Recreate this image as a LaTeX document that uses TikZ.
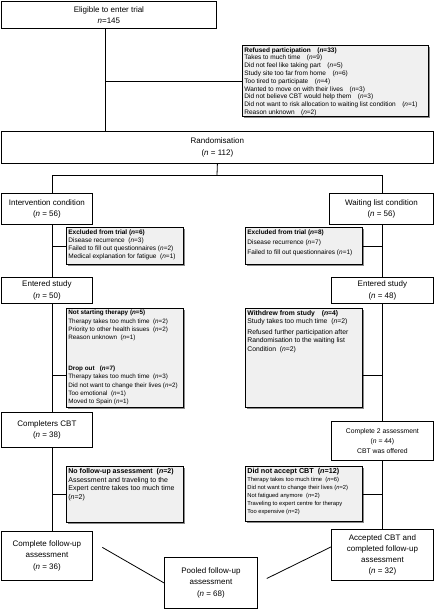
\documentclass[tikz,border=0pt]{standalone}
\usepackage{fontspec}
\setmainfont{Liberation Sans}
\usetikzlibrary{shadows, positioning}
\definecolor{BoxGrey}{HTML}{F0F0F0}
\definecolor{ShadowGrey}{HTML}{8A8A8A}
\newcommand{\greytext}[3]{\parbox[c][#2][t]{#1}{\raggedright #3}}

\begin{document}
\begin{tikzpicture}[x=1pt, y=-1pt, line width=0.8pt,
  mainbox/.style={draw, fill=white, anchor=north west, align=center, inner sep=1pt, font=\fontsize{8}{11.5}\selectfont},
  greybox/.style={draw, fill=BoxGrey, anchor=north west, inner sep=2pt,
    drop shadow={shadow xshift=1.6pt, shadow yshift=-1.6pt, fill=ShadowGrey, opacity=1}}]
  % Make it 434 x 610
  \useasboundingbox (0,0) rectangle (434,610);

  % main stages
  \node[mainbox, minimum width=215pt, minimum height=27pt] (eligible) at (1,1) {Eligible to enter trial\\\textit{n}=145};
  \node[mainbox, minimum width=432pt, minimum height=32pt] (random) at (1,131) {Randomisation\\(\textit{n} = 112)};
  \node[mainbox, minimum width=91pt, minimum height=31pt] (interv) at (1,193) {Intervention condition\\(\textit{n} = 56)};
  \node[mainbox, minimum width=104pt, minimum height=31pt] (wait) at (329,193) {Waiting list condition\\(\textit{n} = 56)};
  \node[mainbox, minimum width=91pt, minimum height=26pt] (enteredI) at (1,277) {Entered study\\(\textit{n} = 50)};
  \node[mainbox, minimum width=102pt, minimum height=26pt] (enteredW) at (331,277) {Entered study\\(\textit{n} = 48)};
  \node[mainbox, minimum width=91pt, minimum height=35pt] (completers) at (1,412) {Completers CBT\\(\textit{n} = 38)};
  \node[mainbox, minimum width=102pt, minimum height=39pt, font=\fontsize{6.8}{10}\selectfont] (secondW) at (331,421) {Complete 2 assessment\\(\textit{n} = 44)\\CBT was offered};
  \node[mainbox, minimum width=91pt, minimum height=49pt] (followI) at (1,531) {Complete follow-up\\assessment\\(\textit{n} = 36)};
  \node[mainbox, minimum width=102pt, minimum height=51pt, font=\fontsize{8}{11}\selectfont] (followW) at (331,529) {Accepted CBT and\\completed follow-up\\assessment\\(\textit{n} = 32)};
  \node[mainbox, minimum width=93pt, minimum height=51pt] (pooled) at (164,557) {Pooled follow-up\\assessment\\(\textit{n} = 68)};

  % drop-out boxes
  \node[greybox, font=\fontsize{6.5}{7.8}\selectfont] (refused) at (242,45) {\greytext{182pt}{67pt}{%
    \textbf{Refused participation\quad(\textit{n}=33)}\\
    Takes to much time\quad(\textit{n}=9)\\
    Did not feel like taking part\quad(\textit{n}=5)\\
    Study site too far from home\quad(\textit{n}=6)\\
    Too tired to participate\quad(\textit{n}=4)\\
    Wanted to move on with their lives\quad(\textit{n}=3)\\
    Did not believe CBT would help them\quad(\textit{n}=3)\\
    Did not want to risk allocation to waiting list condition\quad(\textit{n}=1)\\
    Reason unknown\quad(\textit{n}=2)}};
  \node[greybox, font=\fontsize{6.5}{8.2}\selectfont] (exclI) at (66,227) {\greytext{113pt}{33pt}{%
    \textbf{Excluded from trial (\textit{n}=6)}\\
    Disease recurrence\ \ (\textit{n}=3)\\
    Failed to fill out questionnaires (\textit{n}=2)\\
    Medical explanation for fatigue\ \ (\textit{n}=1)}};
  \node[greybox, font=\fontsize{6.5}{10}\selectfont] (exclW) at (245,227) {\greytext{113pt}{33pt}{%
    \textbf{Excluded from trial (\textit{n}=8)}\\
    Disease recurrence (\textit{n}=7)\\
    Failed to fill out questionnaires (\textit{n}=1)}};
  \node[greybox, font=\fontsize{6.3}{8.2}\selectfont] (dropI) at (66,308) {\greytext{113pt}{95pt}{%
    \textbf{Not starting therapy (\textit{n}=5)}\\
    Therapy takes too much time\ \ (\textit{n}=2)\\
    Priority to other health issues\ \ (\textit{n}=2)\\
    Reason unknown\ \ (\textit{n}=1)\\[23pt]
    \textbf{Drop out\ \ \ (\textit{n}=7)}\\
    Therapy takes too much time\ \ (\textit{n}=3)\\
    Did not want to change their lives (\textit{n}=2)\\
    Too emotional\ \ (\textit{n}=1)\\
    Moved to Spain (\textit{n}=1)}};
  \node[greybox, font=\fontsize{6.8}{8.2}\selectfont] (withdrew) at (245,308) {\greytext{113pt}{95pt}{%
    \textbf{Withdrew from study\quad(\textit{n}=4)}\\
    Study takes too much time\ \ (\textit{n}=2)\\[3pt]
    Refused further participation after\\
    Randomisation to the waiting list\\
    Condition\ \ (\textit{n}=2)}};
  \node[greybox, font=\fontsize{7}{8.7}\selectfont] (nofollow) at (66,466) {\greytext{113pt}{52pt}{%
    \textbf{No follow-up assessment\ \ (\textit{n}=2)}\\
    Assessment and traveling to the\\
    Expert centre takes too much time\\
    (\textit{n}=2)}};
  \node[greybox, font=\fontsize{5.8}{8}\selectfont] (notaccept) at (245,466) {\greytext{113pt}{51pt}{%
    {\fontsize{7.2}{9}\selectfont\textbf{Did not accept CBT\ \ (\textit{n}=12)}}\\
    Therapy takes too much time\ \ (\textit{n}=6)\\
    Did not want to change their lives (\textit{n}=2)\\
    Not fatigued anymore\ \ (\textit{n}=2)\\
    Traveling to expert centre for therapy\\
    Too expensive (\textit{n}=2)}};

  % trunk from eligible down to randomisation
  \coordinate (trunk) at ([xshift=-3.5pt]eligible.south);
  \draw (trunk) -- (trunk |- random.north);
  \draw (trunk |- refused.west) -- (refused.west);

  % split into the two arms
  \coordinate (split) at (217,175);
  \coordinate (armI) at (52,175);
  \coordinate (armW) at (382,175);
  \draw (random.south) -- (split);
  \draw (armI) -- (armW);
  \draw (armI) -- (armI |- interv.north);
  \draw (armW) -- (armW |- wait.north);

  % intervention arm
  \draw (armI |- interv.south) -- (armI |- enteredI.north);
  \draw (armI |- exclI.west) -- (exclI.west);
  \draw (armI |- enteredI.south) -- (armI |- completers.north);
  \draw ([yshift=-17pt]dropI.west -| armI) -- ([yshift=-17pt]dropI.west);
  \draw (armI |- completers.south) -- (armI |- followI.north);
  \draw (armI |- nofollow.west) -- (nofollow.west);

  % waiting list arm
  \draw (armW |- wait.south) -- (armW |- enteredW.north);
  \draw (armW |- exclW.east) -- (exclW.east);
  \draw (armW |- enteredW.south) -- (armW |- secondW.north);
  \draw ([yshift=-17pt]withdrew.east -| armW) -- ([yshift=-17pt]withdrew.east);
  \draw (armW |- secondW.south) -- (armW |- followW.north);
  \draw (armW |- notaccept.east) -- (notaccept.east);

  % pooling
  \draw[shorten <=11pt] ([yshift=14pt]followI.east) -- (pooled.west);
  \draw[shorten >=10pt] ([yshift=8pt]followW.west) -- (pooled.east);
\end{tikzpicture}
\end{document}
